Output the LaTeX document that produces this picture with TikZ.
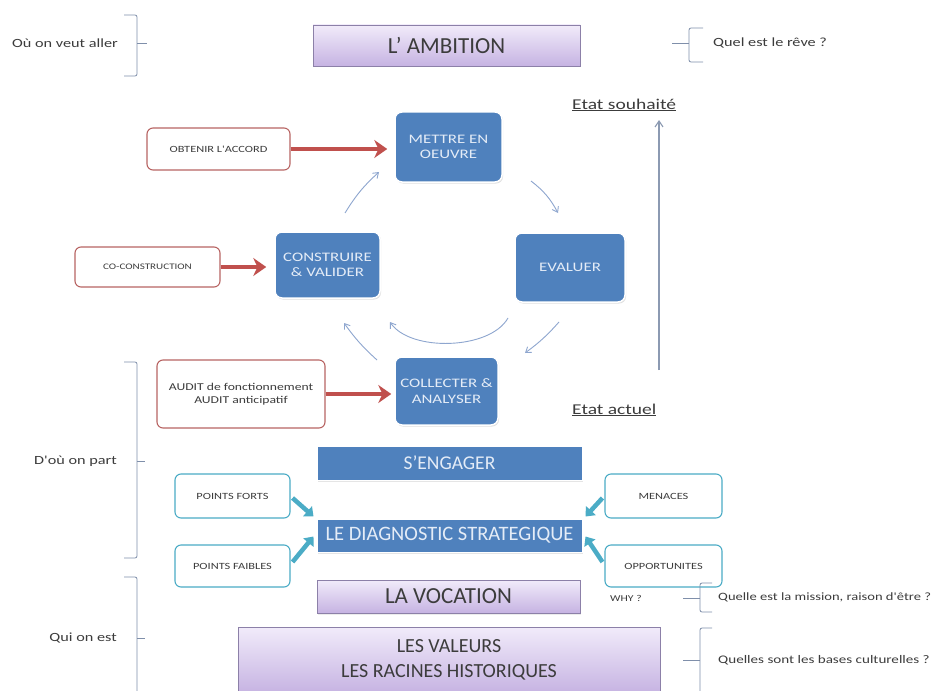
\documentclass[tikz,border=0pt]{standalone}
\usepackage{fontspec}
\setmainfont{Carlito}
\newfontfamily\widefam[FakeStretch=1.3]{Carlito}
\usetikzlibrary{arrows.meta,shadows,calc}
\definecolor{lavA}{HTML}{F1EBFA}
\definecolor{lavB}{HTML}{C6B3E2}
\definecolor{lavD}{HTML}{8C80A8}
\definecolor{bluebox}{HTML}{4F81BD}
\definecolor{bluetext}{HTML}{E4ECF7}
\definecolor{redc}{HTML}{C0504D}
\definecolor{redb}{HTML}{B86463}
\definecolor{tealc}{HTML}{4BACC6}
\definecolor{cyc}{HTML}{8EA6CF}
\definecolor{brk}{HTML}{7F8FAA}
\definecolor{txt}{HTML}{3C3C3C}
\tikzset{
  lavbox/.style={draw=lavD, line width=0.8pt, top color=lavA, bottom color=lavB, align=center, text=txt, inner sep=0pt, drop shadow={opacity=0.15, shadow xshift=1pt, shadow yshift=-1.5pt}},
  cyclebox/.style={draw=white, line width=1.5pt, fill=bluebox, rounded corners=7pt, align=center, text=bluetext, font=\widefam\fontsize{13}{15.5}\selectfont, inner sep=0pt, drop shadow={opacity=0.25, shadow xshift=1pt, shadow yshift=-1.5pt}},
  bandbox/.style={fill=bluebox, draw=white, line width=1pt, align=center, text=bluetext, inner sep=0pt, drop shadow={opacity=0.2, shadow xshift=1pt, shadow yshift=-1.5pt}},
  redbox/.style={draw=redb, line width=1.1pt, fill=white, rounded corners=6pt, align=center, text=txt, inner sep=0pt},
  tealbox/.style={draw=tealc, line width=1.1pt, fill=white, rounded corners=6pt, align=center, text=txt, font=\widefam\fontsize{9.5}{11}\selectfont, inner sep=0pt},
  redarrow/.style={draw=redc, line width=3.5pt, -{Stealth[length=13pt,width=18pt]}},
  tealarrow/.style={draw=tealc, line width=4.5pt, -{Triangle[length=8pt,width=13pt]}},
  cycarrow/.style={draw=cyc, line width=0.9pt, -{Straight Barb[length=5pt,width=7pt]}},
  bracketline/.style={draw=brk, line width=0.8pt, rounded corners=2pt},
  sidelabel/.style={text=txt, font=\widefam\fontsize{12.5}{14}\selectfont, inner sep=0pt},
  etat/.style={text=txt, font=\widefam\fontsize{15}{17}\selectfont, inner sep=0pt, anchor=west}
}
\begin{document}
\begin{tikzpicture}[x=1pt,y=-1pt]
\useasboundingbox[fill=white] (0,0) rectangle (949,690);

% ---- top row
\node[lavbox, minimum width=267pt, minimum height=41pt, font=\fontsize{23}{26}\selectfont] (amb) at (446.5,45.5) {L' AMBITION};
\node[sidelabel, anchor=east] (l1) at (118,43) {Où on veut aller};
\draw[bracketline] (124,15) -- (137,15) -- (137,76) -- (124,76);
\coordinate (b1t) at (137,43);
\draw[draw=brk, line width=0.8pt] (b1t) -- ++(10,0);

\draw[bracketline] (703,28) -- (689,28) -- (689,62) -- (703,62);
\coordinate (b2t) at (689,43);
\draw[draw=brk, line width=0.8pt] (b2t) -- ++(-17,0);
\node[sidelabel, anchor=west] (r1) at (713,43) {Quel est le rêve ?};

% ---- etats
\node[etat] (souh) at (572,105) {\underline{Etat souhaité}};
\node[etat] (act) at (572,410) {\underline{Etat actuel}};
\coordinate (vbot) at (659,370);
\coordinate (vtop) at (659,120);
\draw[draw=brk!90, line width=1.1pt, -{Straight Barb[length=6pt,width=8pt]}] (vbot) -- (vtop);

% ---- cycle
\node[cyclebox, minimum width=107pt, minimum height=70pt] (mettre) at (448.5,147) {METTRE EN\\OEUVRE};
\node[cyclebox, minimum width=110pt, minimum height=69pt] (eval) at (570,267.5) {EVALUER};
\node[cyclebox, minimum width=105pt, minimum height=66pt] (constr) at (327.5,265) {CONSTRUIRE\\\& VALIDER};
\node[cyclebox, minimum width=103pt, minimum height=68pt] (collect) at (446.5,391) {COLLECTER \&\\ANALYSER};

\node[redbox, minimum width=143pt, minimum height=42pt, font=\widefam\fontsize{9.5}{11}\selectfont] (obt) at (218.5,149) {OBTENIR L'ACCORD};
\node[redbox, minimum width=145pt, minimum height=40pt, font=\widefam\fontsize{8.5}{10}\selectfont] (coc) at (147.5,267) {CO-CONSTRUCTION};
\node[redbox, minimum width=168pt, minimum height=68pt, font=\widefam\fontsize{10.5}{13}\selectfont] (audit) at (241,394) {AUDIT de fonctionnement\\AUDIT anticipatif};

\draw[redarrow, shorten >=7pt] (obt.east) -- (obt.east -| mettre.west);
\draw[redarrow, shorten >=8pt] (coc.east) -- (coc.east -| constr.west);
\draw[redarrow, shorten >=3pt] (audit.east) -- (audit.east -| collect.west);

\coordinate (c1s) at (345,213);
\coordinate (c1e) at (379,172);
\draw[cycarrow] (c1s) to[bend left=8] (c1e);
\coordinate (c2s) at (531,181);
\coordinate (c2e) at (558,213);
\draw[cycarrow] (c2s) to[bend left=12] (c2e);
\coordinate (c3s) at (559,322);
\coordinate (c3e) at (525,353);
\draw[cycarrow] (c3s) to[bend left=6] (c3e);
\coordinate (c4s) at (377,360);
\coordinate (c4e) at (344,323);
\draw[cycarrow] (c4s) to[bend left=6] (c4e);
\coordinate (arcs) at (508,318);
\coordinate (arce) at (390,322);
\draw[cycarrow] (arcs) .. controls (490,350) and (410,352) .. (arce);

% ---- left bracket 2
\node[sidelabel, anchor=east] (l2) at (117,461) {D'où on part};
\draw[bracketline] (124,362) -- (137,362) -- (137,558) -- (124,558);
\coordinate (b3t) at (137,461);
\draw[draw=brk, line width=0.8pt] (b3t) -- ++(8,0);

% ---- bands
\node[bandbox, minimum width=265pt, minimum height=34pt, font=\fontsize{19.5}{22}\selectfont] (eng) at (449.5,463) {S'ENGAGER};
\node[bandbox, minimum width=265pt, minimum height=33pt, font=\fontsize{20.5}{23}\selectfont] (diag) at (449.5,535.5) {LE DIAGNOSTIC STRATEGIQUE};

\node[tealbox, minimum width=115pt, minimum height=44pt] (pf) at (232.5,496) {POINTS FORTS};
\node[tealbox, minimum width=115pt, minimum height=42pt] (pfa) at (232.5,566) {POINTS FAIBLES};
\node[tealbox, minimum width=117pt, minimum height=44pt] (men) at (663.5,496) {MENACES};
\node[tealbox, minimum width=117pt, minimum height=42pt] (opp) at (663.5,566) {OPPORTUNITES};

\draw[tealarrow] ($(pf.east)+(2,2)$) -- ($(diag.west)+(-3,-19)$);
\draw[tealarrow] ($(pfa.east)+(2,-4)$) -- ($(diag.west)+(-3,1)$);
\draw[tealarrow] ($(men.west)+(-2,2)$) -- ($(diag.east)+(3,-19)$);
\draw[tealarrow] ($(opp.west)+(-2,-4)$) -- ($(diag.east)+(3,1)$);

% ---- bottom
\node[lavbox, minimum width=263pt, minimum height=33pt, font=\fontsize{23}{26}\selectfont] (voc) at (448.5,596.5) {LA VOCATION};
\node[lavbox, minimum width=422pt, minimum height=66pt, font=\fontsize{20}{25}\selectfont] (val) at (449,660) {LES VALEURS\\LES RACINES HISTORIQUES};

\node[sidelabel, anchor=east] (l3) at (117,638) {Qui on est};
\draw[bracketline] (124,577) -- (137,577) -- (137,700);
\coordinate (b4t) at (137,638);
\draw[draw=brk, line width=0.8pt] (b4t) -- ++(8,0);

\node[text=txt, font=\widefam\fontsize{9}{10}\selectfont, anchor=west, inner sep=0pt] (why) at (610,598) {WHY ?};
\draw[bracketline] (712,583) -- (700,583) -- (700,612) -- (712,612);
\coordinate (b5t) at (700,598);
\draw[draw=brk, line width=0.8pt] (b5t) -- ++(-17,0);
\node[sidelabel, anchor=west, font=\widefam\fontsize{11.2}{13}\selectfont] (r2) at (718,597) {Quelle est la mission, raison d'être ?};

\draw[bracketline] (712,628) -- (700,628) -- (700,700);
\coordinate (b6t) at (700,660);
\draw[draw=brk, line width=0.8pt] (b6t) -- ++(-17,0);
\node[sidelabel, anchor=west, font=\widefam\fontsize{11.6}{13}\selectfont] (r3) at (718,660) {Quelles sont les bases culturelles ?};
\end{tikzpicture}
\end{document}
